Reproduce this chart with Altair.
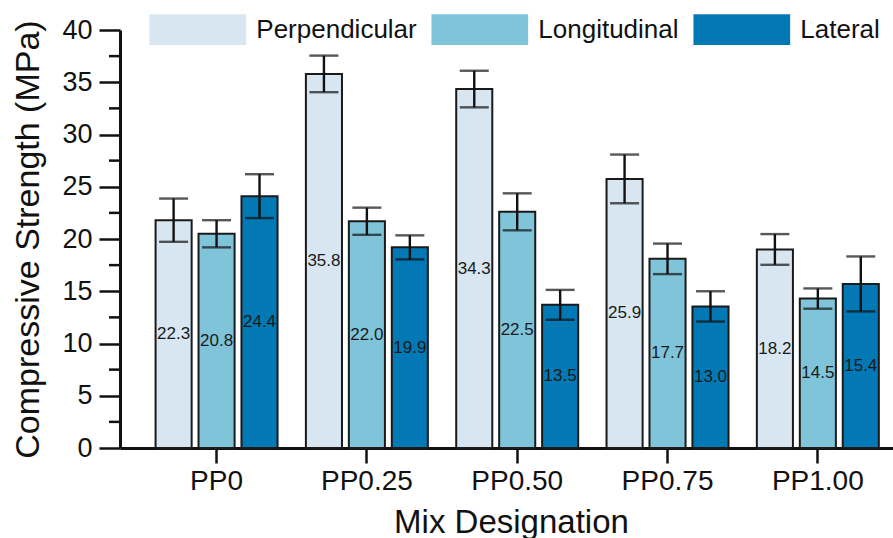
import altair as alt
import pandas as pd

mixes = ["PP0", "PP0.25", "PP0.50", "PP0.75", "PP1.00"]
orientations = ["Perpendicular", "Longitudinal", "Lateral"]
colors = ["#d7e6f0", "#80c4da", "#0278b4"]

perp_mean = [21.8, 35.8, 34.35, 25.75, 19.0]
long_mean = [20.5, 21.7, 22.6, 18.1, 14.3]
lat_mean = [24.1, 19.2, 13.7, 13.55, 15.7]

perp_err = [2.07, 1.75, 1.75, 2.33, 1.47]
long_err = [1.3, 1.3, 1.77, 1.46, 0.97]
lat_err = [2.1, 1.15, 1.43, 1.45, 2.63]

perp_label = ["22.3", "35.8", "34.3", "25.9", "18.2"]
long_label = ["20.8", "22.0", "22.5", "17.7", "14.5"]
lat_label = ["24.4", "19.9", "13.5", "13.0", "15.4"]

y_ticks = [0, 5, 10, 15, 20, 25, 30, 35, 40]
minor_ticks = [2.5, 7.5, 12.5, 17.5, 22.5, 27.5, 32.5, 37.5]

rows = []
for o, means, errs, labs in zip(orientations,
                                [perp_mean, long_mean, lat_mean],
                                [perp_err, long_err, lat_err],
                                [perp_label, long_label, lat_label]):
    for m, v, e, l in zip(mixes, means, errs, labs):
        rows.append({"mix": m, "orientation": o, "mean": v, "err": e, "label": l,
                     "lo": v - e, "hi": v + e, "mid": v / 2})
df = pd.DataFrame(rows)
minor_df = pd.DataFrame({"v": minor_ticks})

FONT = "Liberation Sans"
INK = "#111111"

x_enc = alt.X("mix:N", sort=mixes,
              scale=alt.Scale(paddingInner=0, paddingOuter=0.0712, align=1),
              axis=alt.Axis(title="Mix Designation", labelAngle=0, labelFontSize=28,
                            labelColor=INK, labelPadding=4, tickSize=15, tickWidth=2.5,
                            tickColor=INK, domainWidth=3, domainColor=INK,
                            titleFontSize=33, titleFontWeight="normal", titleColor=INK,
                            titleX=391, titleY=84, titleAlign="center",
                            titleBaseline="alphabetic"))
xo_enc = alt.XOffset("orientation:N", sort=orientations,
                     scale=alt.Scale(paddingInner=0.16, paddingOuter=0.33))

y_scale = alt.Scale(domain=[0, 40], nice=False, zero=True)
y_axis = alt.Axis(title="Compressive Strength (MPa)", values=y_ticks, grid=False,
                  labelFontSize=27, labelColor=INK, labelPadding=7, tickSize=21,
                  tickWidth=2.5, tickColor=INK, domainWidth=3, domainColor=INK,
                  titleFontSize=34, titleFontWeight="normal", titleColor=INK,
                  titleX=-82, titleY=209, titleAlign="center", titleBaseline="alphabetic")

base = alt.Chart(df)

bars = base.mark_bar(stroke="#1a1a1a", strokeWidth=2).encode(
    x=x_enc, xOffset=xo_enc,
    y=alt.Y("mean:Q", scale=y_scale, axis=y_axis),
    color=alt.Color("orientation:N", sort=orientations,
                    scale=alt.Scale(domain=orientations, range=colors),
                    legend=alt.Legend(title=None, orient="none", direction="horizontal",
                                      legendX=29.3, legendY=-48.9,
                                      symbolType="M-1,-0.3175H1V0.3175H-1Z",
                                      symbolSize=9350, symbolStrokeWidth=0,
                                      labelFontSize=26, labelColor=INK, labelLimit=0,
                                      labelOffset=10, columnPadding=14, padding=0)),
)

labels = base.mark_text(fontSize=17, color="#1a1a1a", baseline="middle", align="center").encode(
    x=x_enc, xOffset=xo_enc,
    y=alt.Y("mid:Q", scale=y_scale, axis=y_axis),
    text="label:N",
)

err_rule = base.mark_rule(color=INK, strokeWidth=2.4).encode(
    x=x_enc, xOffset=xo_enc,
    y=alt.Y("lo:Q", scale=y_scale, axis=y_axis),
    y2="hi:Q",
)
err_lo = base.mark_tick(color=INK, size=29, thickness=2.4).encode(
    x=x_enc, xOffset=xo_enc,
    y=alt.Y("lo:Q", scale=y_scale, axis=y_axis),
)
err_hi = base.mark_tick(color=INK, size=29, thickness=2.4).encode(
    x=x_enc, xOffset=xo_enc,
    y=alt.Y("hi:Q", scale=y_scale, axis=y_axis),
)

minor = alt.Chart(minor_df).mark_rule(color=INK, strokeWidth=2.5).encode(
    y=alt.Y("v:Q", scale=y_scale, axis=y_axis),
    x=alt.value(-11), x2=alt.value(0),
)

chart = alt.layer(bars, labels, err_rule, err_lo, err_hi, minor).properties(
    width=773, height=418,
    autosize=alt.AutoSizeParams(type="none"),
    padding={"left": 120, "top": 30, "right": 0, "bottom": 90},
).configure(font=FONT).configure_view(stroke=None).configure_tick(bandSize=29)

chart.save("out.html", embed_options={"renderer": "svg", "actions": False})
